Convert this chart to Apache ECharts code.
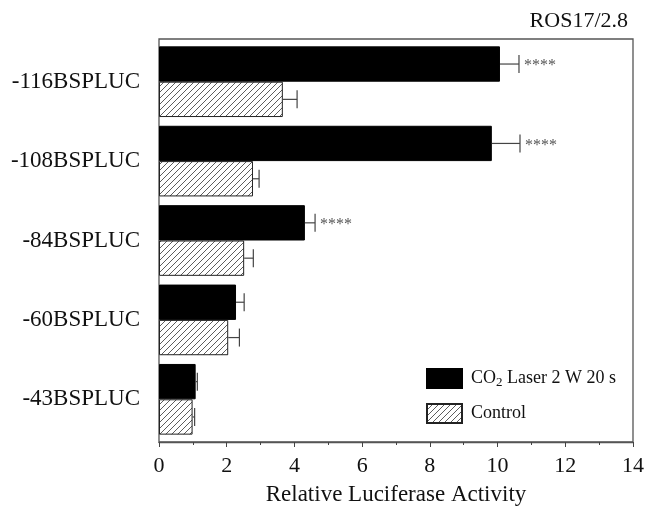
<!DOCTYPE html>
<html>
<head>
<meta charset="utf-8">
<script src="https://cdn.jsdelivr.net/npm/echarts@6/dist/echarts.min.js"></script>
<style>
  html, body { margin: 0; padding: 0; background: #fff; }
  #main { width: 647px; height: 511px; }
</style>
</head>
<body>
<div id="main"></div>
<script>
var categories = ['-116BSPLUC', '-108BSPLUC', '-84BSPLUC', '-60BSPLUC', '-43BSPLUC'];
var laserValues = [10.05, 9.81, 4.30, 2.27, 1.08];
var laserErrors = [0.56, 0.83, 0.30, 0.24, 0.05];
var controlValues = [3.65, 2.77, 2.51, 2.04, 0.99];
var controlErrors = [0.42, 0.18, 0.27, 0.33, 0.06];
var laserMarks = ['****', '****', '****', '', ''];
var xTicks = [0, 2, 4, 6, 8, 10, 12, 14];

var FONT = '"Liberation Serif", "DejaVu Serif", serif';

// 斜线填充
var hatch = (function () {
    var c = document.createElement('canvas');
    c.width = 6; c.height = 6;
    var g = c.getContext('2d');
    g.fillStyle = '#fff';
    g.fillRect(0, 0, 6, 6);
    g.strokeStyle = '#333';
    g.lineWidth = 0.8;
    g.beginPath();
    g.moveTo(0, 6); g.lineTo(6, 0);
    g.moveTo(-1, 1); g.lineTo(1, -1);
    g.moveTo(5, 7); g.lineTo(7, 5);
    g.stroke();
    return c;
})();

var catGap = 0.11;

function errData(values, errs, marks) {
    return values.map(function (v, i) {
        return [i, v, errs[i], marks ? marks[i] : ''];
    });
}

function errRender(side) {
    return function (params, api) {
        var idx = api.value(0);
        var v = api.value(1);
        var e = api.value(2);
        var mark = api.value(3);
        var band = api.size([0, 1])[1];
        var bw = band * (1 - catGap) / 2;
        var p0 = api.coord([v, idx]);
        var p1 = api.coord([v + e, idx]);
        var y = p0[1] + side * bw / 2;
        var half = 9;
        var st = { stroke: '#444', lineWidth: 1.2 };
        var kids = [
            { type: 'line', shape: { x1: p0[0], y1: y, x2: p1[0], y2: y }, style: st },
            { type: 'line', shape: { x1: p1[0], y1: y - half, x2: p1[0], y2: y + half }, style: st }
        ];
        if (mark && mark !== '-') {
            kids.push({
                type: 'text',
                style: {
                    text: mark, x: p1[0] + 5, y: y + 2,
                    textAlign: 'left', textVerticalAlign: 'middle',
                    fill: '#555', font: '16px ' + FONT
                }
            });
        }
        return { type: 'group', children: kids };
    };
}

var myChart = echarts.init(document.getElementById('main'));
var option = {
    animation: false,
    backgroundColor: '#fff',
    title: {
        text: 'ROS17/2.8',
        right: 19,
        top: 10,
        padding: 0,
        textStyle: { fontFamily: FONT, fontSize: 22, fontWeight: 'normal', color: '#111' }
    },
    legend: {
        orient: 'vertical',
        left: 426,
        top: 368,
        padding: 0,
        icon: 'rect',
        itemWidth: 35,
        itemHeight: 19,
        itemGap: 14,
        data: ['laser', 'control'],
        formatter: function (name) {
            return name === 'laser' ? 'CO{sub|2} Laser 2 W 20 s' : 'Control';
        },
        textStyle: {
            fontFamily: FONT, fontSize: 18, color: '#111', padding: [0, 0, 0, 4],
            rich: {
                sub: { fontFamily: FONT, fontSize: 13, color: '#111', padding: [8, 0, 0, 0] }
            }
        }
    },
    grid: [
        // 柱子所在区域
        { left: 159, right: 13, top: 42, bottom: 72 },
        // 外框和x轴
        { left: 159, right: 13, top: 39, bottom: 67, show: true, borderColor: '#555', borderWidth: 1.3 }
    ],
    xAxis: [
        { gridIndex: 0, type: 'value', min: 0, max: 14, interval: 2, show: false },
        {
            gridIndex: 1,
            type: 'value',
            min: 0,
            max: 14,
            interval: 2,
            name: 'Relative Luciferase Activity',
            nameLocation: 'middle',
            nameGap: 41,
            nameTextStyle: { fontFamily: FONT, fontSize: 23, color: '#111' },
            axisLine: { show: true, lineStyle: { color: '#555', width: 1.3 } },
            axisTick: { show: true, length: 5, lineStyle: { color: '#444' } },
            minorTick: { show: true, splitNumber: 2, length: 3, lineStyle: { color: '#444' } },
            splitLine: { show: false },
            axisLabel: {
                margin: 13,
                fontFamily: FONT, fontSize: 22, color: '#111',
                formatter: function (v) { return xTicks.indexOf(v) >= 0 ? String(v) : ''; }
            }
        }
    ],
    yAxis: [
        {
            gridIndex: 0,
            type: 'category',
            inverse: true,
            data: categories,
            axisLine: { show: false },
            axisTick: { show: false },
            axisLabel: { margin: 19, padding: [11, 0, 0, 0], fontFamily: FONT, fontSize: 23, color: '#111' }
        },
        { gridIndex: 1, type: 'value', min: 0, max: 1, show: false }
    ],
    series: [
        {
            name: 'laser',
            type: 'bar',
            data: laserValues,
            barGap: 0,
            barCategoryGap: (catGap * 100) + '%',
            itemStyle: { color: '#000', borderColor: '#000', borderWidth: 1 }
        },
        {
            name: 'control',
            type: 'bar',
            data: controlValues,
            itemStyle: { color: { image: hatch, repeat: 'repeat' }, borderColor: '#222', borderWidth: 1 }
        },
        {
            name: 'laserErr',
            type: 'custom',
            renderItem: errRender(-1),
            encode: { x: 1, y: 0 },
            data: errData(laserValues, laserErrors, laserMarks),
            z: 5
        },
        {
            name: 'controlErr',
            type: 'custom',
            renderItem: errRender(1),
            encode: { x: 1, y: 0 },
            data: errData(controlValues, controlErrors),
            z: 5
        }
    ]
};
myChart.setOption(option);
</script>
</body>
</html>
